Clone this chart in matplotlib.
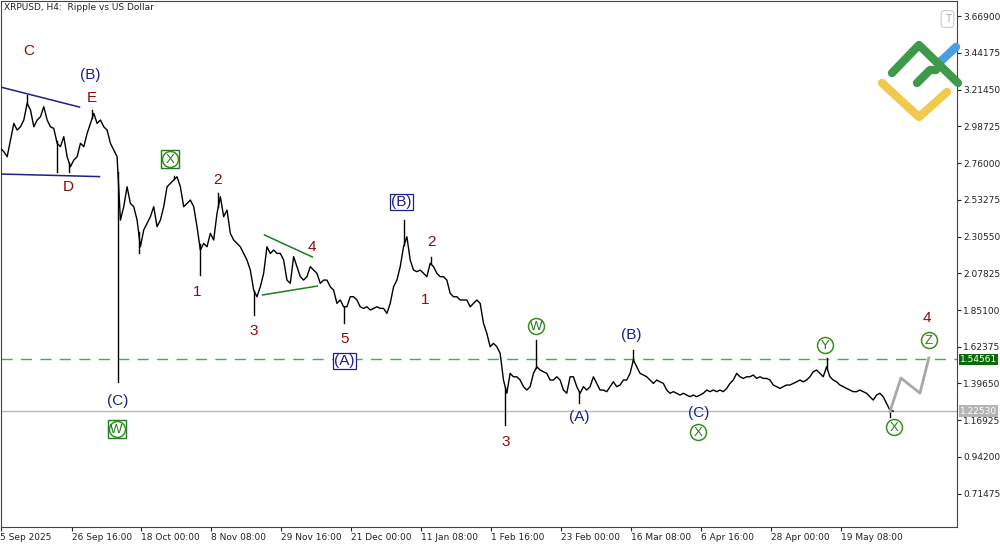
#!/usr/bin/env python3
# xrpusd_h4_waves.py

import numpy as np
import pandas as pd
import matplotlib
matplotlib.use('Agg')
import matplotlib.pyplot as plt
import matplotlib.transforms as mtransforms

start = pd.Timestamp('2025-09-05 00:00')
step_hours = 24.38

close = [
    2.851, 2.830, 2.799, 2.902, 3.005, 2.964, 2.984, 3.026, 3.129, 3.088,
    2.984, 3.026, 3.046, 3.108, 3.026, 2.984, 2.974, 2.882, 2.861, 2.923,
    2.799, 2.737, 2.778, 2.799, 2.882, 2.861, 2.943, 3.005, 3.067, 3.005,
    3.026, 2.984, 2.964, 2.882, 2.840, 2.799, 2.407, 2.490, 2.613, 2.510,
    2.490, 2.407, 2.242, 2.346, 2.387, 2.428, 2.490, 2.366, 2.407, 2.490,
    2.613, 2.634, 2.655, 2.675, 2.613, 2.490, 2.510, 2.531, 2.490, 2.366,
    2.222, 2.263, 2.242, 2.325, 2.284, 2.449, 2.552, 2.428, 2.469, 2.325,
    2.284, 2.263, 2.242, 2.201, 2.160, 2.098, 1.974, 1.933, 1.995, 2.078,
    2.242, 2.201, 2.222, 2.201, 2.201, 2.160, 2.036, 2.016, 2.181, 2.119,
    2.057, 2.036, 2.057,
    2.119, 2.098, 2.078, 2.016, 2.036, 2.036, 1.995, 1.974, 1.892, 1.913,
    1.871, 1.871, 1.933, 1.933, 1.913, 1.871, 1.861, 1.871, 1.851, 1.861,
    1.871, 1.861, 1.861, 1.830, 1.892, 1.995, 2.036, 2.119, 2.242, 2.304,
    2.160, 2.098, 2.088, 2.098, 2.078, 2.057, 2.140, 2.119, 2.078, 2.057,
    2.057, 2.036, 1.954, 1.933, 1.933, 1.913, 1.913, 1.913, 1.871, 1.892,
    1.913, 1.892, 1.769, 1.707, 1.624, 1.645, 1.624, 1.583, 1.418, 1.336,
    1.459, 1.438, 1.438, 1.418, 1.377, 1.356, 1.377, 1.459, 1.500, 1.480,
    1.469, 1.459, 1.418, 1.418, 1.438, 1.418, 1.356, 1.336, 1.438, 1.438,
    1.377, 1.336, 1.377, 1.356, 1.377, 1.438, 1.397, 1.356, 1.356, 1.346,
    1.377, 1.407, 1.377, 1.387, 1.418, 1.418, 1.459, 1.542, 1.500, 1.459,
    1.449, 1.438, 1.418, 1.397, 1.418, 1.407, 1.397, 1.356, 1.336, 1.346,
    1.336, 1.325, 1.336, 1.325, 1.315, 1.325, 1.315, 1.325, 1.336, 1.356,
    1.346, 1.356, 1.346, 1.356, 1.346, 1.366, 1.397, 1.418, 1.459, 1.438,
    1.428, 1.438, 1.438, 1.449, 1.428, 1.438, 1.428, 1.428, 1.418, 1.387,
    1.377, 1.366, 1.377, 1.387, 1.387, 1.397, 1.407, 1.418, 1.407, 1.418,
    1.438, 1.469, 1.480, 1.459, 1.438, 1.500, 1.438, 1.418, 1.407, 1.387,
    1.377, 1.366, 1.356, 1.346, 1.346, 1.356, 1.346, 1.336, 1.315, 1.294,
    1.325, 1.336, 1.315, 1.274, 1.232, 1.2253,
]

# Dochte (Tag seit Start, Extremkurs)
wick_day = [8.2, 17.1, 21.0, 28.0, 35.8, 42.1, 53.0, 60.7, 66.4, 77.4,
            104.9, 123.1, 131.4, 153.9, 163.4, 176.5, 192.9, 252.1, 271.3]
wick_price = [3.180, 2.704, 2.704, 3.088, 1.406, 2.203, 2.680, 2.067, 2.574, 1.820,
              1.770, 2.407, 2.179, 1.140, 1.665, 1.276, 1.603, 1.554, 1.189]

# Prognose (grau)
proj_day = [271.3, 274.6, 280.4, 283.1]
proj_price = [1.2253, 1.430, 1.337, 1.554]

# Trendlinien
navy_lines = [([0.0, 24.1], [3.230, 3.106]), ([0.0, 30.2], [2.692, 2.676])]
green_lines = [([80.5, 95.1], [2.315, 2.179]), ([79.9, 96.6], [1.944, 1.999])]

level_green = 1.54561
level_last = 1.22530

# Wellen-Beschriftungen
red_labels = [('C', 8.5, 3.453), ('E', 27.7, 3.162), ('D', 20.7, 2.611),
              ('2', 66.1, 2.655), ('1', 60.0, 1.962), ('3', 77.1, 1.721),
              ('4', 95.1, 2.240), ('5', 104.9, 1.671), ('2', 131.4, 2.271),
              ('1', 129.5, 1.913), ('3', 154.2, 1.034), ('4', 282.5, 1.801)]
navy_labels = [('(B)', 27.4, 3.304), ('(C)', 35.7, 1.288), ('(A)', 176.5, 1.189),
               ('(B)', 192.3, 1.696), ('(C)', 213.0, 1.214)]
navy_boxed = [('(A)', 104.9, 1.535), ('(B)', 122.2, 2.519)]
green_circles = [('W', 163.4, 1.752), ('X', 212.7, 1.096), ('Y', 251.4, 1.634),
                 ('X', 272.5, 1.127), ('Z', 283.1, 1.665)]
green_boxed = [('W', 35.4, 1.115), ('X', 51.8, 2.785)]

tick_dates = ['2025-09-05 00:00', '2025-09-26 16:00', '2025-10-18 00:00', '2025-11-08 08:00',
              '2025-11-29 16:00', '2025-12-21 00:00', '2026-01-11 08:00', '2026-02-01 16:00',
              '2026-02-23 00:00', '2026-03-16 08:00', '2026-04-06 16:00', '2026-04-28 00:00',
              '2026-05-19 08:00']
tick_labels = ['5 Sep 2025', '26 Sep 16:00', '18 Oct 00:00', '8 Nov 08:00', '29 Nov 16:00',
               '21 Dec 00:00', '11 Jan 08:00', '1 Feb 16:00', '23 Feb 00:00', '16 Mar 08:00',
               '6 Apr 16:00', '28 Apr 00:00', '19 May 08:00']
price_ticks = [3.66900, 3.44175, 3.21450, 2.98725, 2.76000, 2.53275, 2.30550,
               2.07825, 1.85100, 1.62375, 1.39650, 1.16925, 0.94200, 0.71475]

RED = '#8b0a0a'
NAVY = '#1e1e8a'
GREEN = '#1e7d1e'
LBL_FONT = 'Liberation Sans'


def main():
    days = np.arange(len(close)) * step_hours / 24.0
    tick_pos = [(pd.Timestamp(t) - start) / pd.Timedelta('1D') for t in tick_dates]

    fig = plt.figure(figsize=(10, 5.45), dpi=100)
    ax = fig.add_axes([0.0005, 18 / 545, 0.9565, 526 / 545])
    ax.set_xlim(0, 291.7)
    ax.set_ylim(0.509, 3.762)

    # Kurslinie + Dochte
    ax.plot(days, close, color='black', lw=1.0, zorder=3)
    for d, wp in zip(wick_day, wick_price):
        base = np.interp(d, days, close)
        ax.plot([d, d], [base, wp], color='black', lw=1.0, zorder=3)

    # Niveaus
    ax.axhline(level_green, color='#4fa84f', lw=1, dashes=(8, 6), zorder=2)
    ax.axhline(level_last, color='#b8b8b8', lw=1, zorder=2)

    # Prognose
    ax.plot(proj_day, proj_price, color='#a8a8a8', lw=2, zorder=3)

    for xs, ys in navy_lines:
        ax.plot(xs, ys, color=NAVY, lw=1.1, zorder=3)
    for xs, ys in green_lines:
        ax.plot(xs, ys, color=GREEN, lw=1.1, zorder=3)

    # Beschriftungen
    for txt, d, p in red_labels:
        ax.text(d, p, txt, color=RED, fontsize=11, family=LBL_FONT,
                ha='center', va='center', zorder=5)
    for txt, d, p in navy_labels:
        ax.text(d, p, txt, color=NAVY, fontsize=11, family=LBL_FONT,
                ha='center', va='center', zorder=5)
    for txt, d, p in navy_boxed:
        ax.text(d, p, txt, color=NAVY, fontsize=11, family=LBL_FONT,
                ha='center', va='center', zorder=5,
                bbox=dict(boxstyle='square,pad=0.08', fc='white', ec=NAVY, lw=0.9))
    for txt, d, p in green_boxed:
        ax.plot(d, p, marker='s', ms=13.5, mfc='white', mec=GREEN, mew=1, zorder=4)
    for txt, d, p in green_circles + green_boxed:
        ax.plot(d, p, marker='o', ms=11.5, mfc='white', mec='#3a8f1a', mew=1.1, zorder=4)
        ax.text(d, p - 0.005, txt, color=GREEN, fontsize=9.5, family=LBL_FONT,
                ha='center', va='center', zorder=5)

    # Achsen
    ax.set_xticks(tick_pos)
    ax.set_xticklabels(tick_labels)
    for t in ax.get_xticklabels():
        t.set_horizontalalignment('left')
    ax.yaxis.tick_right()
    ax.set_yticks(price_ticks)
    ax.set_yticklabels(['%.5f' % v for v in price_ticks])
    ax.tick_params(axis='both', direction='out', length=3, width=0.8,
                   labelsize=6.5, colors='#222222', pad=1.5)
    for sp in ax.spines.values():
        sp.set_color('#444444')
        sp.set_linewidth(0.8)

    # Kurs-Boxen rechts
    trans = mtransforms.blended_transform_factory(ax.transAxes, ax.transData)
    ax.text(1.003, level_green, '%.5f' % level_green, transform=trans, fontsize=6.5,
            color='white', va='center', ha='left', zorder=6, clip_on=False,
            bbox=dict(boxstyle='square,pad=0.15', fc='#0b6b0b', ec='none'))
    ax.text(1.003, level_last, '%.5f' % level_last, transform=trans, fontsize=6.5,
            color='white', va='center', ha='left', zorder=6, clip_on=False,
            bbox=dict(boxstyle='square,pad=0.15', fc='#b4b4b4', ec='none'))

    fig.text(0.004, 1 - 7 / 545, 'XRPUSD, H4:  Ripple vs US Dollar', fontsize=6.5,
             va='center', ha='left', color='#222222')
    fig.text(0.9475, 1 - 19 / 545, 'T', fontsize=7, color='#aaaaaa', va='center', ha='center',
             bbox=dict(boxstyle='round,pad=0.35', fc='white', ec='#cccccc', lw=0.8))

    # Logo
    lg = fig.add_axes([0, 0, 1, 1], facecolor='none')
    lg.set_xlim(0, 1000)
    lg.set_ylim(545, 0)
    lg.axis('off')
    kw = dict(lw=6, solid_capstyle='round', solid_joinstyle='round')
    lg.plot([940, 956], [62, 47], color='#4a9fe0', **kw)
    lg.plot([882, 919, 947], [83, 117, 92], color='#f2c94c', **kw)
    lg.plot([892, 919, 958], [73, 45, 83], color='#3e9a4a', **kw)
    lg.plot([917, 930, 936], [83, 70, 70], color='#3e9a4a', **kw)

    fig.savefig('out.png', dpi=100)


if __name__ == '__main__':
    main()
